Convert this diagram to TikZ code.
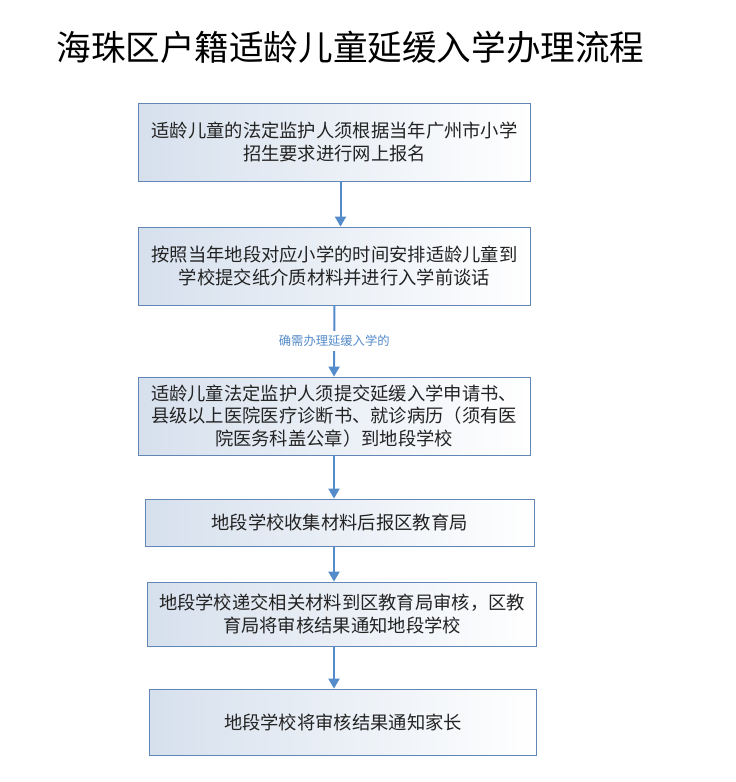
\documentclass[tikz,border=0pt]{standalone}
\usepackage{fontspec}
\setmainfont{Noto Sans CJK SC}
\usetikzlibrary{arrows.meta}
\definecolor{boxline}{RGB}{98,135,182}
\definecolor{boxshade}{RGB}{214,224,237}
\definecolor{flowarrow}{RGB}{84,139,202}
\definecolor{steptext}{RGB}{35,35,35}

\begin{document}
\begin{tikzpicture}[x=1pt,y=-1pt]
\tikzstyle{every node}+=[inner sep=0pt]
\tikzstyle{stepbox}=[draw=boxline, line width=0.8pt, left color=boxshade, right color=white, align=center, text=steptext, font=\fontsize{18.3}{22.5}\selectfont]
\tikzstyle{flow}=[draw=flowarrow, line width=2pt, -{Triangle[width=11pt,length=10pt]}]
\useasboundingbox (0,0) rectangle (736,782);
\node (title) at (350.5,47.5) {\fontsize{34.6}{38}\selectfont 海珠区户籍适龄儿童延缓入学办理流程};
\node [stepbox, minimum width=392, minimum height=78] (s1) at (334.5,142) {适龄儿童的法定监护人须根据当年广州市小学\\招生要求进行网上报名};
\node [stepbox, minimum width=392, minimum height=78] (s2) at (334.5,266) {按照当年地段对应小学的时间安排适龄儿童到\\学校提交纸介质材料并进行入学前谈话};
\node [stepbox, minimum width=392, minimum height=78] (s3) at (334,416) {适龄儿童法定监护人须提交延缓入学申请书、\\县级以上医院医疗诊断书、就诊病历（须有医\\院医务科盖公章）到地段学校};
\node [stepbox, minimum width=389, minimum height=47] (s4) at (339.5,522.5) {地段学校收集材料后报区教育局};
\node [stepbox, minimum width=389, minimum height=64] (s5) at (342,614) {地段学校递交相关材料到区教育局审核，区教\\育局将审核结果通知地段学校};
\node [stepbox, minimum width=387, minimum height=66] (s6) at (343,722) {地段学校将审核结果通知家长};
\coordinate (axis) at (334,0);
\draw [flow] ([xshift=6pt]s1.south) -- ([xshift=6pt]s2.north);
\draw [flow] (s2.south) -- node [fill=white, inner ysep=4pt, inner xsep=2pt, text=flowarrow, font=\fontsize{12.3}{14}\selectfont] (cond) {确需办理延缓入学的} (s3.north);
\draw [flow] (s3.south -| axis) -- (s4.north -| axis);
\draw [flow] (s4.south -| axis) -- (s5.north -| axis);
\draw [flow] (s5.south -| axis) -- (s6.north -| axis);

\end{tikzpicture}
\end{document}
